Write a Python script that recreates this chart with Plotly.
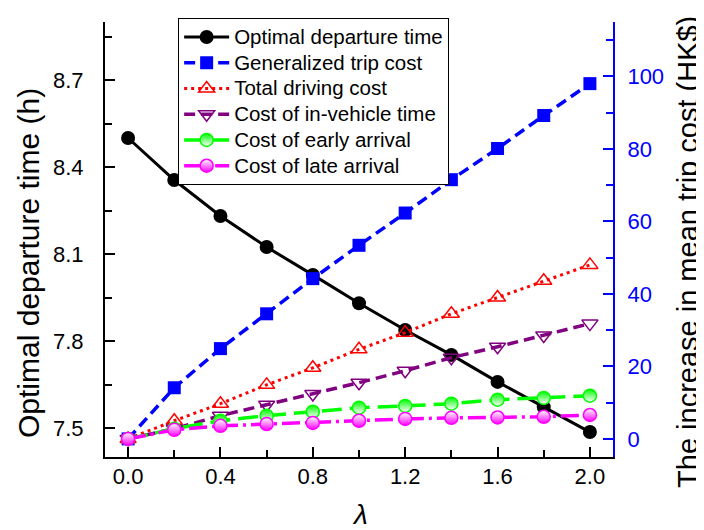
import plotly.graph_objects as go

lam = [0.0, 0.2, 0.4, 0.6, 0.8, 1.0, 1.2, 1.4, 1.6, 1.8, 2.0]
departure = [8.50, 8.355, 8.231, 8.124, 8.028, 7.930, 7.838, 7.752, 7.659, 7.572, 7.486]
gen_cost = [0.0, 14.1, 24.9, 34.5, 44.2, 53.4, 62.3, 71.5, 80.1, 89.2, 98.0]
driving = [0.0, 5.0, 9.7, 14.9, 19.6, 24.7, 29.3, 34.5, 39.0, 43.6, 48.0]
in_vehicle = [0.0, 2.8, 6.4, 9.4, 12.4, 15.5, 18.8, 22.4, 25.4, 28.5, 31.8]
early = [0.0, 2.8, 5.0, 6.4, 7.5, 8.6, 9.1, 9.7, 10.8, 11.3, 11.9]
late = [0.0, 2.5, 3.6, 4.1, 4.4, 5.0, 5.5, 5.8, 5.9, 6.1, 6.6]
names = ["Optimal departure time", "Generalized trip cost", "Total driving cost",
         "Cost of in-vehicle time", "Cost of early arrival", "Cost of late arrival"]

FONT = "Arial, Liberation Sans, sans-serif"


def lname(s):
    return '<span style="font-size:20.5px">' + s + '</span>'


fig = go.Figure()
fig.add_trace(go.Scatter(x=lam, y=departure, name=lname(names[0]), yaxis="y",
                         mode="lines+markers",
                         line=dict(color="black", width=3),
                         marker=dict(symbol="circle", size=14, color="black")))
fig.add_trace(go.Scatter(x=lam, y=gen_cost, name=lname(names[1]), yaxis="y2",
                         mode="lines+markers",
                         line=dict(color="#0000ff", width=3.5, dash="11px,6px"),
                         marker=dict(symbol="square", size=13, color="#0000ff")))
fig.add_trace(go.Scatter(x=lam, y=driving, name=lname(names[2]), yaxis="y2",
                         mode="lines+markers",
                         line=dict(color="#ff0000", width=3, dash="3px,4px"),
                         marker=dict(symbol="triangle-up-open", size=14, color="#ff0000",
                                     line=dict(width=1.5))))
fig.add_trace(go.Scatter(x=lam, y=in_vehicle, name=lname(names[3]), yaxis="y2",
                         mode="lines+markers",
                         line=dict(color="#800080", width=3.5, dash="11px,6px"),
                         marker=dict(symbol="triangle-down-open", size=14, color="#800080",
                                     line=dict(width=1.5))))
fig.add_trace(go.Scatter(x=lam, y=early, name=lname(names[4]), yaxis="y2",
                         mode="lines+markers",
                         line=dict(color="#00ff00", width=3.5, dash="20px,8px"),
                         marker=dict(symbol="circle", size=13, color="#00ff00",
                                     gradient=dict(type="vertical", color="white"),
                                     line=dict(color="#00ff00", width=1.5))))
fig.add_trace(go.Scatter(x=lam, y=late, name=lname(names[5]), yaxis="y2",
                         mode="lines+markers",
                         line=dict(color="#ff00ff", width=3.5, dash="18px,5px,3px,5px"),
                         marker=dict(symbol="circle", size=13, color="white",
                                     gradient=dict(type="vertical", color="#ff00ff"),
                                     line=dict(color="#ff00ff", width=1.5))))

# The page body has an 8px default margin, so the figure is 8px smaller than the window.
fig.update_layout(
    width=696, height=522,
    margin=dict(l=97, r=91, t=14, b=73, autoexpand=False),
    paper_bgcolor="white", plot_bgcolor="white",
    font=dict(family=FONT, size=22, color="black"),
    showlegend=True,
    legend=dict(x=0.144, y=1.009, xanchor="left", yanchor="top",
                bgcolor="white", bordercolor="black", borderwidth=1,
                font=dict(family=FONT, size=17.5, color="black"),
                itemwidth=45, tracegroupgap=0),
    xaxis=dict(range=[-0.1, 2.1], tick0=0, dtick=0.4, tickformat=".1f",
               showgrid=False, zeroline=False, automargin=False,
               showline=True, linecolor="black", linewidth=2,
               ticks="inside", ticklen=10, tickwidth=2, tickcolor="black",
               ticklabelstandoff=-1,
               minor=dict(dtick=0.2, ticks="inside", ticklen=7, tickwidth=2, tickcolor="black")),
    yaxis=dict(range=[7.4, 8.9], tick0=7.5, dtick=0.3, tickformat=".1f",
               showgrid=False, zeroline=False, automargin=False,
               showline=True, linecolor="black", linewidth=2,
               ticks="inside", ticklen=10, tickwidth=2, tickcolor="black",
               ticklabelstandoff=15,
               minor=dict(dtick=0.15, ticks="inside", ticklen=7, tickwidth=2, tickcolor="black")),
    yaxis2=dict(range=[-5, 115], tick0=0, dtick=20, overlaying="y", side="right", anchor="x",
                showgrid=False, zeroline=False, automargin=False,
                showline=True, linecolor="#0000ff", linewidth=2,
                ticks="inside", ticklen=10, tickwidth=2, tickcolor="#0000ff",
                ticklabelstandoff=8,
                tickfont=dict(color="#0000ff", size=22),
                minor=dict(dtick=10, ticks="inside", ticklen=7, tickwidth=2, tickcolor="#0000ff")),
    annotations=[
        dict(text="Optimal departure time (h)", xref="paper", yref="paper",
             x=-0.1496, y=0.446, xanchor="center", yanchor="middle", textangle=-90,
             showarrow=False, font=dict(family=FONT, size=30, color="black")),
        dict(text="The increase in mean trip cost (HK$)", xref="paper", yref="paper",
             x=1.1476, y=0.4713, xanchor="center", yanchor="middle", textangle=-90,
             showarrow=False, font=dict(family=FONT, size=29, color="black")),
        dict(text="<i>λ</i>", xref="paper", yref="paper",
             x=0.502, y=-0.1333, xanchor="center", yanchor="middle",
             showarrow=False, font=dict(family=FONT, size=28, color="black")),
    ],
)

fig.write_html("out.html")
